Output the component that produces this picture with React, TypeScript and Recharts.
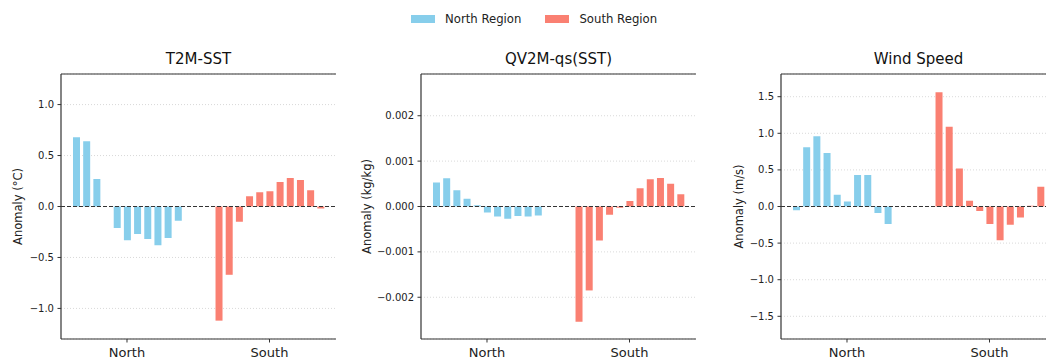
import React from 'react';
import { BarChart, Bar, XAxis, YAxis, CartesianGrid, ReferenceLine, Legend } from 'recharts';

const FONT = '"DejaVu Sans", Verdana, sans-serif';
const NORTH_COLOR = '#87CEEB';
const SOUTH_COLOR = '#FA8072';
const AXIS_COLOR = '#333333';
const TEXT_COLOR = '#222222';

const regions = ['North', 'South'];
const seriesNames = ['North Region', 'South Region'];

// T2M-SST anomalies (°C)
const t2mNorth = [0.68, 0.64, 0.27, 0.0, -0.21, -0.33, -0.27, -0.32, -0.38, -0.31, -0.14];
const t2mSouth = [-1.12, -0.67, -0.15, 0.10, 0.14, 0.15, 0.24, 0.28, 0.26, 0.16, -0.02];
const t2mTicks = [-1.0, -0.5, 0, 0.5, 1.0];
const t2mDomain = [-1.3, 1.3];

// QV2M-qs(SST) anomalies (kg/kg)
const qvNorth = [0.00053, 0.00062, 0.00036, 0.00017, 0.00003, -0.00013, -0.00022, -0.00027, -0.00021, -0.00022, -0.0002];
const qvSouth = [-0.00254, -0.00185, -0.00075, -0.00018, -0.00003, 0.00012, 0.0004, 0.0006, 0.00063, 0.0005, 0.00027];
const qvTicks = [-0.002, -0.001, 0, 0.001, 0.002];
const qvDomain = [-0.00292, 0.00292];

// Wind speed anomalies (m/s)
const windNorth = [-0.05, 0.81, 0.96, 0.73, 0.16, 0.07, 0.43, 0.43, -0.09, -0.24, 0.0];
const windSouth = [1.56, 1.09, 0.52, 0.08, -0.06, -0.24, -0.46, -0.25, -0.15, 0.01, 0.27];
const windTicks = [-1.5, -1.0, -0.5, 0, 0.5, 1.0, 1.5];
const windDomain = [-1.81, 1.81];

// empty slots separating the two region groups
const GAP_SLOTS = 3;

type Row = { slot: string; north: number | null; south: number | null };

function buildRows(north: number[], south: number[]): Row[] {
  const rows: Row[] = [];
  north.forEach((v, i) => rows.push({ slot: `N${i}`, north: v, south: null }));
  for (let g = 0; g < GAP_SLOTS; g++) rows.push({ slot: `gap${g}`, north: null, south: null });
  south.forEach((v, i) => rows.push({ slot: `S${i}`, north: null, south: v }));
  return rows;
}

const fmt = (decimals: number) => (v: number) => {
  const s = Number(v).toFixed(decimals);
  return s.startsWith('-') ? '\u2212' + s.slice(1) : s;
};

const renderLegend = (props: any) => {
  const payload = props.payload || [];
  return (
    <div style={{ display: 'flex', alignItems: 'center', fontFamily: FONT, fontSize: 11.7, color: TEXT_COLOR, lineHeight: '14px', whiteSpace: 'nowrap' }}>
      {payload.map((e: any, i: number) => (
        <div key={i} style={{ display: 'flex', alignItems: 'center', marginLeft: i ? 24 : 0 }}>
          <span style={{ display: 'inline-block', width: 24, height: 8, background: e.color, marginRight: 10 }} />
          <span>{e.value}</span>
        </div>
      ))}
    </div>
  );
};

type PanelProps = {
  left: number;
  title: string;
  yLabel: string;
  labelX: number;
  north: number[];
  south: number[];
  domain: number[];
  ticks: number[];
  decimals: number;
  legend?: boolean;
};

const CHART_W = 360;
const CHART_H = 359;
const PLOT_LEFT = 61;
const PLOT_RIGHT_MARGIN = 24;

function Panel({ left, title, yLabel, labelX, north, south, domain, ticks, decimals, legend }: PanelProps) {
  const rows = buildRows(north, south);
  const mid = Math.floor(north.length / 2);
  const groupTicks = [`N${mid}`, `S${mid}`];
  const groupLabel = (v: string) => (v === groupTicks[0] ? regions[0] : v === groupTicks[1] ? regions[1] : '');
  return (
    <div style={{ position: 'absolute', left, top: 0, width: CHART_W, height: CHART_H }}>
      <div
        style={{
          position: 'absolute',
          left: PLOT_LEFT,
          width: CHART_W - PLOT_LEFT - PLOT_RIGHT_MARGIN,
          top: 50,
          textAlign: 'center',
          fontFamily: FONT,
          fontSize: 15,
          lineHeight: '18px',
          color: '#111',
        }}
      >
        {title}
      </div>
      <BarChart
        width={CHART_W}
        height={CHART_H}
        data={rows}
        margin={{ top: 74, right: PLOT_RIGHT_MARGIN, bottom: 0, left: 0 }}
        barSize={7}
      >
        <CartesianGrid vertical={false} stroke="#cfcfcf" strokeDasharray="1 2" strokeWidth={0.8} />
        <XAxis
          dataKey="slot"
          type="category"
          height={20}
          padding={{ left: 10, right: 10.5 }}
          ticks={groupTicks}
          interval={0}
          tickFormatter={groupLabel}
          tickSize={3.5}
          tickMargin={5}
          tick={{ fill: TEXT_COLOR, fontSize: 13, fontFamily: FONT }}
          axisLine={{ stroke: AXIS_COLOR, strokeWidth: 1.2 }}
          tickLine={{ stroke: AXIS_COLOR }}
        />
        <YAxis
          type="number"
          domain={domain}
          ticks={ticks}
          allowDataOverflow
          width={PLOT_LEFT}
          tickFormatter={fmt(decimals)}
          tickSize={3.5}
          tickMargin={3.5}
          tick={{ fill: TEXT_COLOR, fontSize: 10, fontFamily: FONT }}
          axisLine={{ stroke: AXIS_COLOR, strokeWidth: 1.2 }}
          tickLine={{ stroke: AXIS_COLOR }}
          label={{
            value: yLabel,
            angle: -90,
            position: 'insideLeft',
            offset: labelX,
            style: { textAnchor: 'middle', fontSize: 11.5, fontFamily: FONT, fill: TEXT_COLOR },
          }}
        />
        <YAxis
          yAxisId="right"
          orientation="right"
          type="number"
          domain={domain}
          width={0}
          tick={false}
          tickLine={false}
          axisLine={{ stroke: AXIS_COLOR, strokeWidth: 1.2 }}
        />
        <Bar dataKey="north" name={seriesNames[0]} stackId="region" fill={NORTH_COLOR} isAnimationActive={false} />
        <Bar dataKey="south" name={seriesNames[1]} stackId="region" fill={SOUTH_COLOR} isAnimationActive={false} />
        <ReferenceLine y={0} stroke={AXIS_COLOR} strokeDasharray="4 2" strokeWidth={1.2} />
        {/* top frame edge */}
        <ReferenceLine y={domain[1]} stroke={AXIS_COLOR} strokeWidth={1.2} />
        {legend && (
          <Legend
            layout="horizontal"
            verticalAlign="middle"
            align="center"
            content={renderLegend}
            wrapperStyle={{ top: 12, left: 51, width: 300, height: 14 }}
          />
        )}
      </BarChart>
    </div>
  );
}

export default function App() {
  return (
    <div
      style={{
        position: 'fixed',
        left: 0,
        top: 0,
        width: 1046,
        height: 359,
        overflow: 'hidden',
        background: '#ffffff',
      }}
    >
      <Panel left={0} title="T2M-SST" yLabel="Anomaly (°C)" labelX={18.3} north={t2mNorth} south={t2mSouth} domain={t2mDomain} ticks={t2mTicks} decimals={1} />
      <Panel left={360} title="QV2M-qs(SST)" yLabel="Anomaly (kg/kg)" labelX={6.7} north={qvNorth} south={qvSouth} domain={qvDomain} ticks={qvTicks} decimals={3} legend />
      <Panel left={720} title="Wind Speed" yLabel="Anomaly (m/s)" labelX={19.3} north={windNorth} south={windSouth} domain={windDomain} ticks={windTicks} decimals={1} />
    </div>
  );
}
